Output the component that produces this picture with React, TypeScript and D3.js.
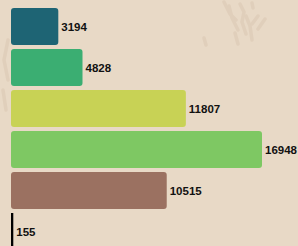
import React from "react";
import * as d3 from "d3";

const categories = ["A", "B", "C", "D", "E", "F"];
const values = [3194, 4828, 11807, 16948, 10515, 155];
const colors = ["#1e6474", "#3bae72", "#c8d255", "#7ec863", "#9b7161", "#000000"];

const W = 298;
const H = 246;

export default function App() {
  const x = d3.scaleLinear().domain([0, 16948]).range([11, 262]);
  const y = d3.scaleBand<string>().domain(categories).range([8, 250]).paddingInner(4 / 41).paddingOuter(0);
  const texture = [
    "M224,2 L230,14 L236,20",
    "M229,6 L232,18 L238,30",
    "M240,4 L244,12 L242,22 L246,34",
    "M252,3 L253,8",
    "M246,16 L250,26 L252,40",
    "M258,16 L252,24",
    "M265,19 L258,29",
    "M235,33 L238,44",
    "M204,38 L206,45",
    "M8,40 L4,60 L8,80",
    "M3,90 L6,110",
  ];
  return (
    <div style={{ position: "fixed", left: 0, top: 0, width: W, height: H, overflow: "hidden" }}>
      <svg width={W} height={H} style={{ display: "block" }}>
        <rect x={0} y={0} width={W} height={H} fill="#e8d9c6" />
        <g stroke="#dfcdb9" strokeWidth={3.5} strokeLinecap="round" fill="none" opacity={0.8}>
          {texture.map((d, i) => (
            <path key={i} d={d} />
          ))}
        </g>
        {values.map((v, i) => (
          <g key={categories[i]}>
            <rect
              x={x(0)}
              y={y(categories[i])}
              width={Math.max(x(v) - x(0), 2)}
              height={y.bandwidth()}
              rx={i === 5 ? 0 : 3}
              fill={colors[i]}
            />
            <text
              x={x(v) + 3}
              y={(y(categories[i]) as number) + y.bandwidth() / 2}
              dy="0.35em"
              fontFamily="Liberation Sans, Arial, sans-serif"
              fontWeight="bold"
              fontSize={11.5}
              fill="#111"
            >
              {v}
            </text>
          </g>
        ))}
      </svg>
    </div>
  );
}
